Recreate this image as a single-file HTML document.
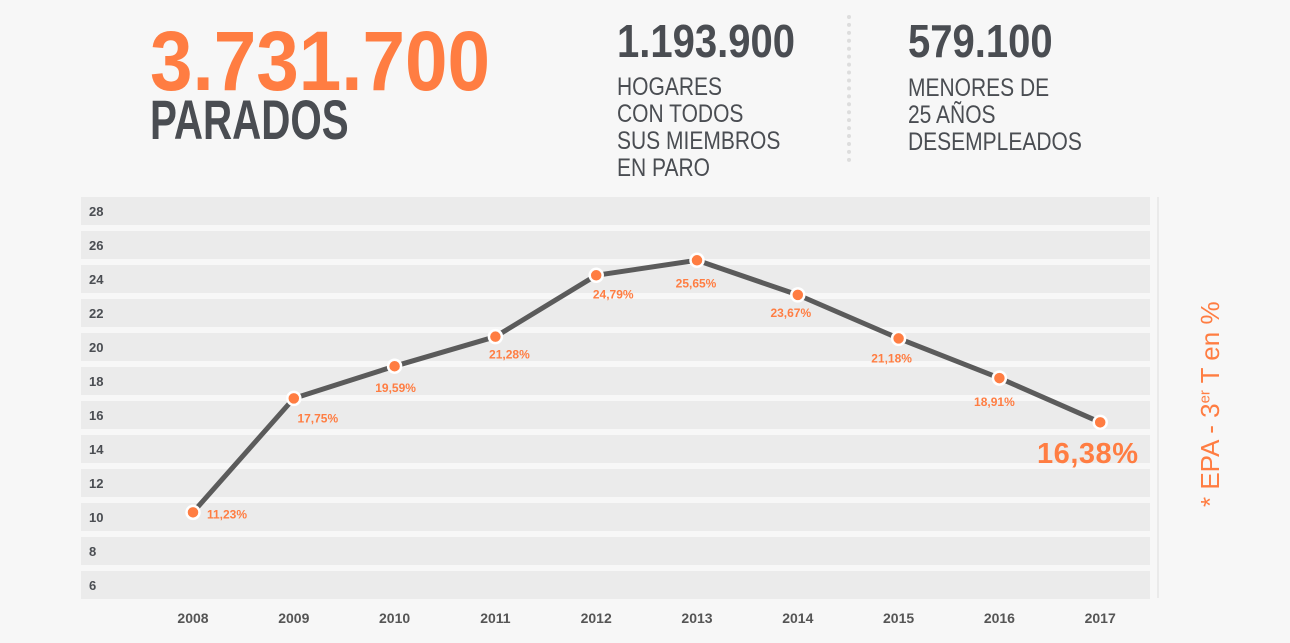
<!DOCTYPE html>
<html><head><meta charset="utf-8"><style>
body{margin:0;width:1290px;height:643px;background:#f7f7f7;overflow:hidden;font-family:"Liberation Sans",sans-serif;position:relative}
.t{position:absolute;white-space:nowrap;transform-origin:0 0}
</style></head><body>
<div class="t" style="left:150px;top:13px;font-size:84px;font-weight:bold;color:#ff7d42;transform:scaleX(0.91)">3.731.700</div>
<div class="t" style="left:150px;top:87px;font-size:56px;font-weight:bold;color:#4a4d52;transform:scaleX(0.72)">PARADOS</div>
<div class="t" style="left:617px;top:14px;font-size:46px;font-weight:bold;color:#4a4d52;transform:scaleX(0.87)">1.193.900</div>
<div class="t" style="left:617px;top:74px;font-size:25px;line-height:27px;color:#4a4d52;transform:scaleX(0.84)">HOGARES<br>CON TODOS<br>SUS MIEMBROS<br>EN PARO</div>
<div style="position:absolute;left:847px;top:15px;height:147px;border-left:4px dotted #ddd"></div>
<div class="t" style="left:908px;top:14px;font-size:46px;font-weight:bold;color:#4a4d52;transform:scaleX(0.87)">579.100</div>
<div class="t" style="left:908px;top:75px;font-size:25px;line-height:27px;color:#4a4d52;transform:scaleX(0.84)">MENORES DE<br>25 AÑOS<br>DESEMPLEADOS</div>
<svg id="chart" width="1290" height="643" style="position:absolute;left:0;top:0"></svg>
<div class="t" style="left:1195px;top:507px;font-size:26px;color:#ff7d42;transform:rotate(-90deg)">* EPA - 3<sup style="font-size:15px">er</sup> T en %</div>
<script>
const years=["2008","2009","2010","2011","2012","2013","2014","2015","2016","2017"];
const rates=[11.23,17.75,19.59,21.28,24.79,25.65,23.67,21.18,18.91,16.38];
const rateLabels=["11,23%","17,75%","19,59%","21,28%","24,79%","25,65%","23,67%","21,18%","18,91%","16,38%"];
const ticks=[28,26,24,22,20,18,16,14,12,10,8,6];
const lblDx=[34,24,1,14,17,-1,-7,-7,-5,0], lblDy=[6,24,26,22,23,27,22,24,28,0];
const NS="http://www.w3.org/2000/svg",svg=document.getElementById('chart');
const x=i=>193+i*100.8, y=v=>219.2+(28-v)*17.48;
function mk(t,a){const e=document.createElementNS(NS,t);for(const k in a)e.setAttribute(k,a[k]);svg.appendChild(e);return e;}
ticks.forEach((t,i)=>{
 const r=mk('rect',{x:81,y:197+34*i,width:1069,height:28,fill:'#ebebeb'});
 
 
 const tx=mk('text',{x:89,y:216+34*i,'font-size':13,'font-weight':'bold',fill:'#4a4d52'});tx.textContent=t;
 
 
});
const ax=mk('line',{x1:1158,y1:197,x2:1158,y2:598,stroke:'#ddd','stroke-width':1});


years.forEach((yr,i)=>{const t=mk('text',{x:x(i),y:623,'text-anchor':'middle','font-size':14,'font-weight':'bold',fill:'#555'});t.textContent=yr;
 
 });
const ln=mk('polyline',{points:rates.map((v,i)=>x(i)+','+y(v)).join(' '),fill:'none',stroke:'#5b5b5b','stroke-width':5,'stroke-linejoin':'round'});


rates.forEach((v,i)=>{
 const c=mk('circle',{cx:x(i),cy:y(v),r:6.5,fill:'#ff7d42',stroke:'#fff','stroke-width':2.5});
 
 
 let t;
 if(i===rates.length-1){t=mk('text',{x:1138,y:463,'text-anchor':'end','font-size':29,'font-weight':'bold',fill:'#ff7d42',textLength:101});}
 else t=mk('text',{x:x(i)+lblDx[i],y:y(v)+lblDy[i],'text-anchor':'middle','font-size':12,'font-weight':'bold',fill:'#ff7d42'});
 t.textContent=rateLabels[i];
 
 
});
</script>
</body></html>
